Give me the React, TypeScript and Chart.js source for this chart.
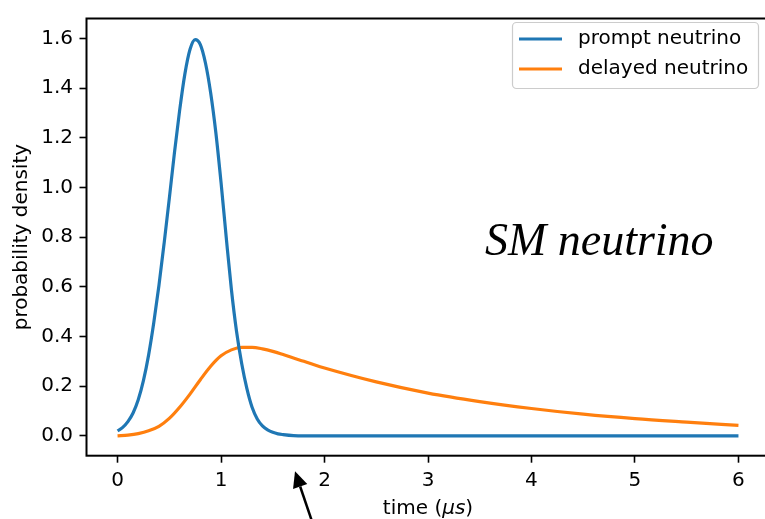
import { useEffect, useRef } from "react";
import { Chart, registerables } from "chart.js";

Chart.register(...registerables);

// Arrival-time distributions of the prompt and delayed neutrinos
const promptTimes = [
  0, 0.05, 0.1, 0.15, 0.2, 0.25, 0.3, 0.35, 0.4, 0.45, 0.5, 0.55, 0.6, 0.65,
  0.7, 0.75, 0.8, 0.85, 0.9, 0.95, 1.0, 1.05, 1.1, 1.15, 1.2, 1.25, 1.3, 1.35,
  1.4, 1.45, 1.5, 1.55, 1.6, 1.7, 1.8, 2, 3, 4, 5, 6,
];
const promptDensity = [
  0.02, 0.034, 0.057, 0.092, 0.145, 0.222, 0.325, 0.455, 0.605, 0.775, 0.955,
  1.14, 1.31, 1.455, 1.555, 1.595, 1.575, 1.5, 1.38, 1.22, 1.02, 0.8, 0.59,
  0.42, 0.29, 0.19, 0.115, 0.068, 0.04, 0.024, 0.014, 0.008, 0.005, 0.001, 0,
  0, 0, 0, 0, 0,
];

const delayedTimes = [
  0, 0.1, 0.2, 0.3, 0.4, 0.5, 0.6, 0.7, 0.8, 0.9, 1.0, 1.1, 1.2, 1.3, 1.4,
  1.5, 1.6, 1.7, 1.8, 1.9, 2.0, 2.5, 3.0, 3.5, 4.0, 4.5, 5.0, 5.5, 6.0,
];
const delayedDensity = [
  0.0, 0.003, 0.009, 0.02, 0.038, 0.07, 0.115, 0.168, 0.226, 0.28, 0.322,
  0.346, 0.356, 0.356, 0.35, 0.34, 0.327, 0.313, 0.3, 0.286, 0.273, 0.217,
  0.172, 0.138, 0.11, 0.087, 0.069, 0.055, 0.042,
];

const seriesLabels = ["prompt neutrino", "delayed neutrino"];
const seriesColors = ["#1f77b4", "#ff7f0e"];

const xTicks = [0, 1, 2, 3, 4, 5, 6];
const yTicks = [0, 0.2, 0.4, 0.6, 0.8, 1.0, 1.2, 1.4, 1.6];

const xRange = [-0.3, 6.3];
const yRange = [-0.08, 1.68];

const SANS = "'DejaVu Sans', sans-serif";
const FONT_SIZE = 20;

const decorations = {
  id: "decorations",
  afterDraw(chart: any) {
    const { ctx, chartArea, scales } = chart;
    const xs = scales.x;
    const ys = scales.y;
    ctx.save();

    // axes frame
    ctx.strokeStyle = "#000";
    ctx.lineWidth = 2;
    ctx.strokeRect(
      chartArea.left,
      chartArea.top,
      chartArea.right - chartArea.left,
      chartArea.bottom - chartArea.top
    );

    // legend box
    const lx = 512;
    const ly = 22;
    const lw = 246;
    const lh = 66;
    ctx.beginPath();
    ctx.roundRect(lx + 0.5, ly + 0.5, lw, lh, 4);
    ctx.fillStyle = "rgba(255,255,255,0.8)";
    ctx.fill();
    ctx.strokeStyle = "#cccccc";
    ctx.lineWidth = 1.2;
    ctx.stroke();
    ctx.font = `${FONT_SIZE}px ${SANS}`;
    ctx.textBaseline = "middle";
    ctx.textAlign = "left";
    seriesLabels.forEach((label, i) => {
      const cy = ly + 17 + i * 30;
      ctx.strokeStyle = seriesColors[i];
      ctx.lineWidth = 3.2;
      ctx.beginPath();
      ctx.moveTo(lx + 7, cy);
      ctx.lineTo(lx + 50, cy);
      ctx.stroke();
      ctx.fillStyle = "#000";
      ctx.fillText(label, lx + 66, cy);
    });

    // in-plot annotation
    ctx.font = `italic 46px 'Liberation Serif', 'Times New Roman', serif`;
    ctx.fillStyle = "#000";
    ctx.textBaseline = "alphabetic";
    ctx.fillText("SM neutrino", xs.getPixelForValue(3.55), ys.getPixelForValue(0.726));

    // x axis title with italic unit
    const cx = (chartArea.left + chartArea.right) / 2;
    const base = 514;
    const partA = "time (";
    const partB = "\u03bcs";
    const partC = ")";
    ctx.font = `${FONT_SIZE}px ${SANS}`;
    const wA = ctx.measureText(partA).width;
    const wC = ctx.measureText(partC).width;
    ctx.font = `italic ${FONT_SIZE}px ${SANS}`;
    const wB = ctx.measureText(partB).width;
    let x0 = cx - (wA + wB + wC) / 2;
    ctx.font = `${FONT_SIZE}px ${SANS}`;
    ctx.fillText(partA, x0, base);
    x0 += wA;
    ctx.font = `italic ${FONT_SIZE}px ${SANS}`;
    ctx.fillText(partB, x0, base);
    x0 += wB;
    ctx.font = `${FONT_SIZE}px ${SANS}`;
    ctx.fillText(partC, x0, base);

    // y axis title
    ctx.save();
    ctx.translate(22, (chartArea.top + chartArea.bottom) / 2);
    ctx.rotate(-Math.PI / 2);
    ctx.textAlign = "center";
    ctx.textBaseline = "middle";
    ctx.fillText("probability density", 0, 0);
    ctx.restore();

    // arrow pointing up at the time axis
    const tipX = xs.getPixelForValue(1.715);
    const tipY = ys.getPixelForValue(-0.143);
    const tailX = xs.getPixelForValue(1.9);
    const tailY = ys.getPixelForValue(-0.37);
    const ang = Math.atan2(tipY - tailY, tipX - tailX);
    const headLen = 16;
    const headHalf = 7.5;
    const bx = tipX - headLen * Math.cos(ang);
    const by = tipY - headLen * Math.sin(ang);
    ctx.strokeStyle = "#000";
    ctx.lineWidth = 2.5;
    ctx.beginPath();
    ctx.moveTo(tailX, tailY);
    ctx.lineTo(bx, by);
    ctx.stroke();
    ctx.fillStyle = "#000";
    ctx.beginPath();
    ctx.moveTo(tipX, tipY);
    ctx.lineTo(bx + headHalf * Math.sin(ang), by - headHalf * Math.cos(ang));
    ctx.lineTo(bx - headHalf * Math.sin(ang), by + headHalf * Math.cos(ang));
    ctx.closePath();
    ctx.fill();

    ctx.restore();
  },
};

export default function App() {
  const canvasRef = useRef<HTMLCanvasElement | null>(null);

  useEffect(() => {
    document.body.style.margin = "0";
    const canvas = canvasRef.current;
    if (!canvas) return;

    const chart = new Chart(canvas, {
      type: "line",
      data: {
        datasets: [
          {
            label: seriesLabels[0],
            data: promptTimes.map((t, i) => ({ x: t, y: promptDensity[i] })),
            borderColor: seriesColors[0],
            backgroundColor: seriesColors[0],
            borderWidth: 3.2,
            pointRadius: 0,
            cubicInterpolationMode: "monotone",
            fill: false,
          },
          {
            label: seriesLabels[1],
            data: delayedTimes.map((t, i) => ({ x: t, y: delayedDensity[i] })),
            borderColor: seriesColors[1],
            backgroundColor: seriesColors[1],
            borderWidth: 3.2,
            pointRadius: 0,
            cubicInterpolationMode: "monotone",
            fill: false,
          },
        ],
      },
      options: {
        animation: false,
        responsive: false,
        maintainAspectRatio: false,
        devicePixelRatio: 1,
        layout: { padding: { top: 10.8, right: 10.5, left: 0, bottom: 0 } },
        plugins: {
          legend: { display: false },
          tooltip: { enabled: false },
          title: { display: false },
        },
        scales: {
          x: {
            type: "linear",
            min: xRange[0],
            max: xRange[1],
            afterBuildTicks: (scale: any) => {
              scale.ticks = xTicks.map((v) => ({ value: v }));
            },
            afterFit: (scale: any) => {
              scale.height = 63.3;
            },
            ticks: {
              font: { family: SANS, size: FONT_SIZE },
              color: "#000",
              padding: 6,
              maxRotation: 0,
              autoSkip: false,
              callback: (v: any) => String(v),
            },
            grid: {
              display: true,
              drawOnChartArea: false,
              drawTicks: true,
              tickLength: 7,
              tickWidth: 1.6,
              tickColor: "#000",
            },
            border: { display: false },
          },
          y: {
            type: "linear",
            min: yRange[0],
            max: yRange[1],
            afterBuildTicks: (scale: any) => {
              scale.ticks = yTicks.map((v) => ({ value: v }));
            },
            afterFit: (scale: any) => {
              scale.width = 86.5;
            },
            ticks: {
              font: { family: SANS, size: FONT_SIZE },
              color: "#000",
              padding: 6.5,
              autoSkip: false,
              callback: (v: any) => Number(v).toFixed(1),
            },
            grid: {
              display: true,
              drawOnChartArea: false,
              drawTicks: true,
              tickLength: 7,
              tickWidth: 1.6,
              tickColor: "#000",
            },
            border: { display: false },
          },
        },
      },
      plugins: [decorations],
    });

    return () => chart.destroy();
  }, []);

  return (
    <div
      style={{
        position: "fixed",
        left: 0,
        top: 0,
        width: 765,
        height: 519,
        overflow: "hidden",
        background: "#fff",
      }}
    >
      <canvas ref={canvasRef} width={780} height={519} style={{ display: "block" }} />
    </div>
  );
}
